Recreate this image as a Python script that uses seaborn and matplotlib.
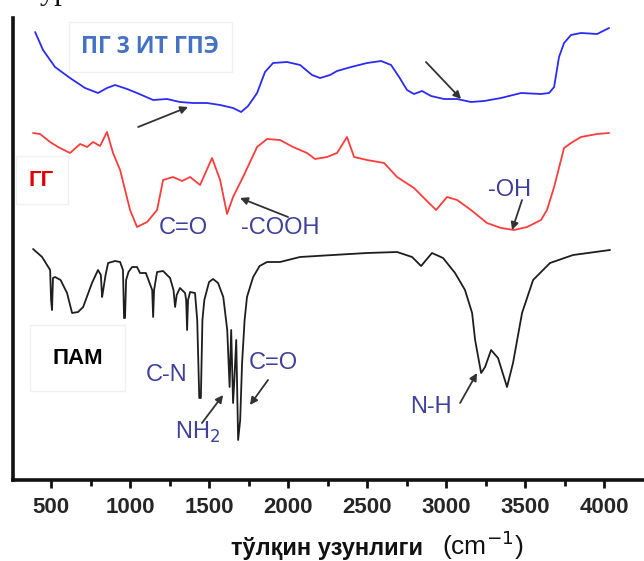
import matplotlib
matplotlib.use("Agg")
import matplotlib.pyplot as plt
import seaborn as sns
import pandas as pd
import numpy as np

# ---- data (wavenumber, arbitrary transmittance units, curves offset) ----
blue_x = [399, 449, 525, 620, 715, 797, 854, 905, 981, 1044, 1146, 1234, 1316, 1399, 1487, 1570,
          1652, 1703, 1747, 1804, 1854, 1905, 1994, 2076, 2152, 2203, 2266, 2310, 2399, 2500, 2589,
          2652, 2703, 2753, 2797, 2848, 2905, 2987, 3070, 3158, 3241, 3348, 3475, 3601, 3652, 3684,
          3715, 3747, 3791, 3854, 3956, 4032]
blue_y = [448, 430, 413, 402, 392, 387, 392, 395, 391, 387, 380, 381, 378, 377, 377, 375,
          372, 368, 374, 387, 408, 417, 418, 415, 405, 402, 405, 409, 413, 417, 419,
          415, 403, 390, 386, 389, 384, 381, 381, 378, 379, 382, 387, 386, 387, 393,
          423, 437, 445, 447, 446, 452]

red_x = [386, 430, 494, 544, 620, 684, 728, 766, 810, 854, 892, 937, 1000, 1044, 1108, 1171, 1209,
         1272, 1329, 1380, 1443, 1519, 1570, 1614, 1652, 1715, 1804, 1867, 1949, 2032, 2120, 2171,
         2247, 2310, 2373, 2418, 2500, 2608, 2690, 2797, 2873, 2937, 3006, 3070, 3158, 3259, 3348,
         3430, 3513, 3601, 3639, 3684, 3747, 3791, 3854, 3956, 4032]
red_y = [347, 346, 338, 333, 327, 336, 333, 338, 334, 348, 327, 310, 270, 253, 258, 270, 300,
         303, 299, 303, 295, 322, 300, 266, 283, 303, 333, 341, 340, 333, 327, 321,
         323, 327, 343, 323, 320, 317, 303, 292, 280, 270, 283, 280, 270, 257, 252,
         250, 253, 260, 270, 293, 332, 337, 343, 346, 347]

black_x = [386, 443, 494, 500, 506, 512, 525, 560, 601, 633, 671, 703, 759, 797, 815, 823, 830, 845,
           861, 905, 937, 955, 962, 968, 975, 990, 1013, 1044, 1063, 1100, 1140, 1146, 1152, 1171,
           1209, 1253, 1275, 1285, 1295, 1316, 1348, 1355, 1361, 1367, 1380, 1411, 1425, 1438, 1448,
           1458, 1470, 1500, 1525, 1557, 1590, 1615, 1630, 1640, 1652, 1660, 1672, 1684, 1697, 1709,
           1725, 1740, 1779, 1820, 1867, 1949, 2076, 2285, 2500, 2690, 2785, 2842, 2911, 2981, 3057,
           3120, 3165, 3184, 3222, 3247, 3285, 3329, 3386, 3424, 3481, 3551, 3658, 3804, 4038]
black_y = [231, 223, 210, 180, 170, 202, 203, 200, 187, 167, 168, 173, 197, 210, 205, 183, 190, 205,
           217, 219, 218, 210, 162, 162, 200, 208, 213, 213, 207, 207, 190, 163, 190, 208,
           209, 202, 190, 173, 185, 192, 187, 180, 150, 180, 188, 187, 160, 82, 82,
           160, 180, 198, 201, 197, 183, 150, 93, 150, 77, 100, 140, 40, 60, 117,
           160, 183, 203, 214, 218, 218, 223, 225, 227, 228, 223, 214, 227, 222, 207,
           190, 167, 140, 107, 113, 130, 122, 93, 117, 167, 200, 217, 225, 230]

series_names = ["ПГ 3 ИТ ГПЭ", "ГГ", "ПАМ"]
x_ticks = [500, 1000, 1500, 2000, 2500, 3000, 3500, 4000]
x_label = "тўлқин узунлиги"

df = pd.concat([
    pd.DataFrame({"wn": blue_x, "T": blue_y, "s": series_names[0]}),
    pd.DataFrame({"wn": red_x, "T": red_y, "s": series_names[1]}),
    pd.DataFrame({"wn": black_x, "T": black_y, "s": series_names[2]}),
])

sns.set_theme(style="white")
plt.rcParams["font.family"] = ["Liberation Sans", "DejaVu Sans"]

fig = plt.figure(figsize=(6.44, 5.61), dpi=100)
ax = fig.add_axes([13 / 644, (561 - 480) / 561, 1 - 13 / 644, (480 - 18) / 561])

palette = {series_names[0]: "#2b2bf5", series_names[1]: "#ff3c3c", series_names[2]: "#1e1e1e"}
sns.lineplot(data=df, x="wn", y="T", hue="s", palette=palette, sort=False,
             estimator=None, lw=1.3, legend=False, ax=ax)

ax.set_xlim(259, 4253)
ax.set_ylim(0, 462)
ax.set_yticks([])
ax.set_xticks(x_ticks)
ax.set_xticks([750, 1250, 1750, 2250, 2750, 3250, 3750], minor=True)
ax.set_xticklabels([str(t) for t in x_ticks], fontsize=16, fontweight="bold", color="#262626")
ax.tick_params(axis="x", which="major", direction="out", length=6, width=2, color="#111",
               bottom=True, pad=6)
ax.tick_params(axis="x", which="minor", direction="out", length=4, width=2, color="#111",
               bottom=True)
ax.set_xlabel("")
ax.set_ylabel("")
for side in ["top", "right"]:
    ax.spines[side].set_visible(False)
for side in ["left", "bottom"]:
    ax.spines[side].set_visible(True)
    ax.spines[side].set_linewidth(2.6)
    ax.spines[side].set_color("#111")

# series labels
ax.text(1127, 433, series_names[0], fontsize=16.5, fontweight="bold", color="#4472c4",
        ha="center", va="center", family=["Open Sans", "DejaVu Sans"],
        bbox=dict(boxstyle="square,pad=0.55", fc="white", ec="#f0f0f0", lw=1))
ax.text(440, 300, series_names[1], fontsize=16, fontweight="bold", color="#e00000",
        ha="center", va="center",
        bbox=dict(boxstyle="square,pad=0.6", fc="white", ec="#f0f0f0", lw=1))
ax.text(670, 122, series_names[2], fontsize=16, fontweight="bold", color="black",
        ha="center", va="center",
        bbox=dict(boxstyle="square,pad=1.0", fc="white", ec="#f0f0f0", lw=1))

ann_color = "#3f3f9c"
afs = 17
arrow = dict(arrowstyle="-|>", color="#333333", lw=1.3, mutation_scale=11, shrinkA=0, shrinkB=0)

# blue arrows
ax.annotate("", xy=(1367, 373), xytext=(1051, 353), arrowprops=arrow)
ax.annotate("", xy=(3095, 381), xytext=(2873, 418), arrowprops=arrow)

# red annotations
ax.text(1335, 252, "C=O", fontsize=afs, color=ann_color, ha="center", va="center")
ax.text(1950, 252, "-COOH", fontsize=afs, color=ann_color, ha="center", va="center")
ax.annotate("", xy=(1696, 282), xytext=(2000, 263), arrowprops=arrow)
ax.text(3399, 290, "-OH", fontsize=afs, color=ann_color, ha="center", va="center")
ax.annotate("", xy=(3418, 250), xytext=(3481, 280), arrowprops=arrow)

# black annotations
ax.text(1230, 105, "C-N", fontsize=afs, color=ann_color, ha="center", va="center")
ax.text(1425, 48, "NH$_2$", fontsize=afs, color=ann_color, ha="center", va="center")
ax.annotate("", xy=(1589, 85), xytext=(1455, 57), arrowprops=arrow)
ax.text(1905, 117, "C=O", fontsize=afs, color=ann_color, ha="center", va="center")
ax.annotate("", xy=(1759, 75), xytext=(1873, 100), arrowprops=arrow)
ax.text(2905, 73, "N-H", fontsize=afs, color=ann_color, ha="center", va="center")
ax.annotate("", xy=(3196, 107), xytext=(3089, 77), arrowprops=arrow)

# axis label
fig.text(327 / 644, 1 - 549 / 561, x_label, fontsize=17, fontweight="bold", color="#111",
         ha="center", va="center")
fig.text(483 / 644, 1 - 545 / 561, "(cm$^{-1}$)", fontsize=19, color="#111",
         ha="center", va="center")

# clipped text remnant at the very top (only its lower part is visible)
fig.text(55 / 644, 1 + 1 / 561, "ур", fontsize=22, family=["Liberation Serif", "DejaVu Serif"],
         color="#111", ha="center", va="baseline")

fig.savefig("out.png", dpi=100)
